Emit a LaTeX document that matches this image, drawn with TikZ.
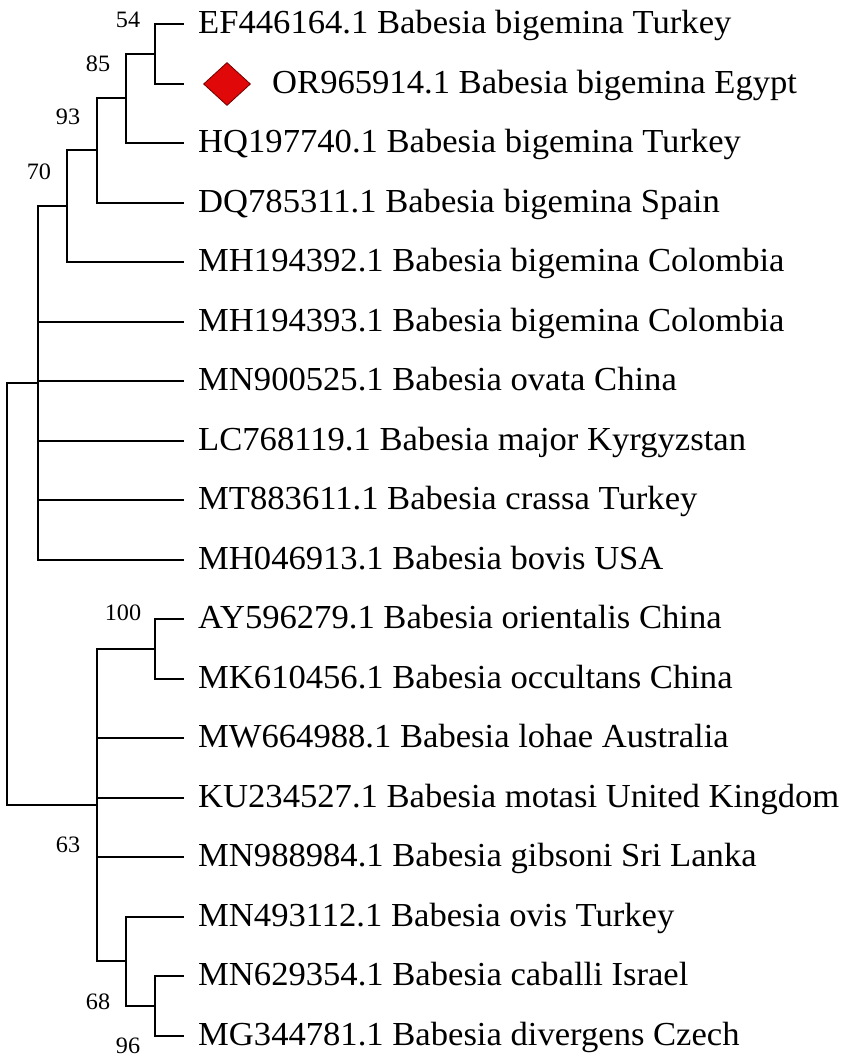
\documentclass[tikz,border=0pt]{standalone}
\usepackage{fontspec}
\setmainfont{Liberation Serif}[FakeStretch=1.03]
\usetikzlibrary{shapes.geometric}
\definecolor{markred}{HTML}{E00808}
\definecolor{markedge}{HTML}{700000}
\begin{document}
\begin{tikzpicture}[x=1pt,y=-1pt,
  branch/.style={line width=2pt, line cap=rect},
  leaf/.style={anchor=base west, inner sep=0pt, font=\fontsize{33.6}{34}\selectfont},
  boot/.style={inner sep=0pt, font=\fontsize{23.5}{24}\selectfont},
  marker/.style={diamond, fill=markred, draw=markedge, line width=0.8pt, minimum width=47pt, minimum height=43pt, inner sep=0pt}]
\useasboundingbox (0,0) rectangle (850,1063);
\fill[white] (0,0) rectangle (850,1063);
% leaf tip coordinates
\foreach \i/\yy in {0/24,1/84,2/143,3/203,4/262,5/322,6/381,7/441,8/500,9/560,10/619,11/679,12/738,13/798,14/857,15/917,16/976,17/1036}{
  \coordinate (t\i) at (183,\yy);
}
% leaf labels
\node[leaf] (l0) at (198,33) {EF446164.1 Babesia bigemina Turkey};
\node[marker] (dia) at (227,84) {};
\node[leaf] (l1) at (272,93) {OR965914.1 Babesia bigemina Egypt};
\node[leaf] (l2) at (198,152) {HQ197740.1 Babesia bigemina Turkey};
\node[leaf] (l3) at (198,212) {DQ785311.1 Babesia bigemina Spain};
\node[leaf] (l4) at (198,271) {MH194392.1 Babesia bigemina Colombia};
\node[leaf] (l5) at (198,331) {MH194393.1 Babesia bigemina Colombia};
\node[leaf] (l6) at (198,390) {MN900525.1 Babesia ovata China};
\node[leaf] (l7) at (198,450) {LC768119.1 Babesia major Kyrgyzstan};
\node[leaf] (l8) at (198,509) {MT883611.1 Babesia crassa Turkey};
\node[leaf] (l9) at (198,569) {MH046913.1 Babesia bovis USA};
\node[leaf] (l10) at (198,628) {AY596279.1 Babesia orientalis China};
\node[leaf] (l11) at (198,688) {MK610456.1 Babesia occultans China};
\node[leaf] (l12) at (198,747) {MW664988.1 Babesia lohae Australia};
\node[leaf] (l13) at (198,807) {KU234527.1 Babesia motasi United Kingdom};
\node[leaf] (l14) at (198,866) {MN988984.1 Babesia gibsoni Sri Lanka};
\node[leaf] (l15) at (198,926) {MN493112.1 Babesia ovis Turkey};
\node[leaf] (l16) at (198,985) {MN629354.1 Babesia caballi Israel};
\node[leaf] (l17) at (198,1045) {MG344781.1 Babesia divergens Czech};
% internal nodes
\coordinate (n54) at (155,54);
\coordinate (n85) at (126,98);
\coordinate (n93) at (97,150);
\coordinate (n70) at (67,206);
\coordinate (npoly) at (38,383);
\coordinate (n100) at (155,649);
\coordinate (n96) at (155,1006);
\coordinate (n68) at (126,961);
\coordinate (nlow) at (97,805);
\coordinate (root) at (7,594);
% branches
\draw[branch] (n54) |- (t0);
\draw[branch] (n54) |- (t1);
\draw[branch] (n85) |- (n54);
\draw[branch] (n85) |- (t2);
\draw[branch] (n93) |- (n85);
\draw[branch] (n93) |- (t3);
\draw[branch] (n70) |- (n93);
\draw[branch] (n70) |- (t4);
\draw[branch] (npoly) |- (n70);
\foreach \i in {5,...,9}{\draw[branch] (npoly) |- (t\i);}
\draw[branch] (n100) |- (t10);
\draw[branch] (n100) |- (t11);
\draw[branch] (n96) |- (t16);
\draw[branch] (n96) |- (t17);
\draw[branch] (n68) |- (t15);
\draw[branch] (n68) |- (n96);
\draw[branch] (nlow) |- (n100);
\foreach \i in {12,13,14}{\draw[branch] (nlow) |- (t\i);}
\draw[branch] (nlow) |- (n68);
\draw[branch] (root) |- (npoly);
\draw[branch] (root) |- (nlow);
% bootstrap values
\node[boot] (b54) at (128,20) {54};
\node[boot] (b85) at (98,64) {85};
\node[boot] (b93) at (68,117) {93};
\node[boot] (b70) at (39,172) {70};
\node[boot] (b100) at (123,613) {100};
\node[boot] (b63) at (68,845) {63};
\node[boot] (b68) at (98,1002) {68};
\node[boot] (b96) at (128,1046) {96};
\end{tikzpicture}
\end{document}
